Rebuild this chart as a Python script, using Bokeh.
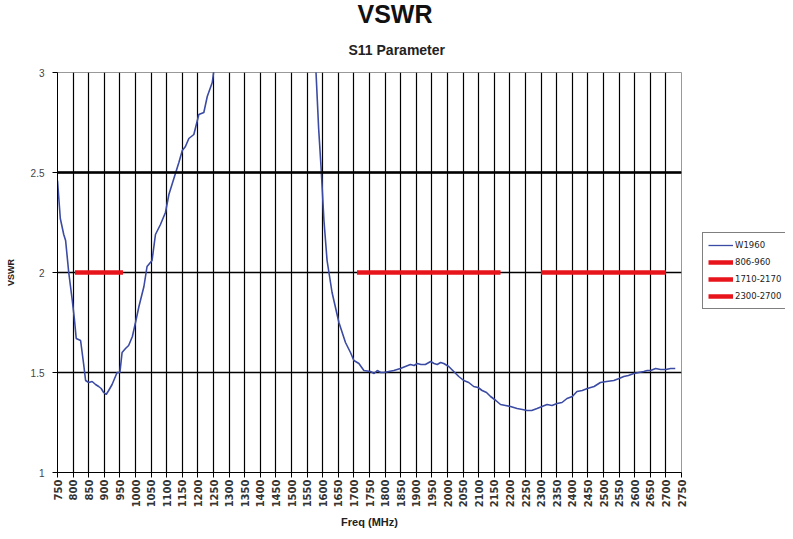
import math
from bokeh.plotting import figure
from bokeh.layouts import row
from bokeh.models import (Title, Legend, LegendItem, FixedTicker, Range1d, Span,
                          ColumnDataSource)
from bokeh.embed import file_html
from bokeh.resources import INLINE

nan = float("nan")

# ---- data ----
freq = [750, 759, 770, 776, 786, 797, 804, 810, 824, 834, 840, 850, 861, 872, 882,
        890, 898, 906, 914, 925, 941, 950, 957, 968, 978, 990, 1000, 1011, 1027,
        1037, 1053, 1064, 1080, 1096, 1107, 1123, 1139, 1150, 1160, 1171, 1187,
        1203, 1219, 1230, 1246, 1252, 1400, 1578, 1587, 1595, 1604, 1614, 1630,
        1652, 1673, 1689, 1700, 1716, 1732, 1753, 1765, 1775, 1786, 1796, 1812,
        1828, 1849, 1865, 1881, 1893, 1903, 1915, 1929, 1946, 1957, 1967, 1978,
        1988, 2004, 2020, 2036, 2052, 2068, 2084, 2098, 2111, 2125, 2138, 2155,
        2170, 2186, 2202, 2223, 2240, 2255, 2270, 2287, 2303, 2319, 2335, 2351,
        2367, 2383, 2400, 2415, 2432, 2448, 2470, 2490, 2510, 2533, 2550, 2565,
        2580, 2597, 2613, 2629, 2640, 2651, 2667, 2683, 2700, 2715, 2730, 2750]
vswr = [2.46, 2.27, 2.19, 2.16, 2.00, 1.865, 1.77, 1.67, 1.66, 1.54, 1.46, 1.45,
        1.455, 1.44, 1.43, 1.42, 1.40, 1.39, 1.41, 1.44, 1.50, 1.50, 1.60, 1.62,
        1.635, 1.68, 1.75, 1.83, 1.93, 2.03, 2.06, 2.19, 2.24, 2.30, 2.39, 2.47,
        2.55, 2.61, 2.63, 2.67, 2.69, 2.79, 2.80, 2.88, 2.95, 3.02, nan, 3.02,
        2.72, 2.52, 2.26, 2.06, 1.90, 1.75, 1.65, 1.60, 1.56, 1.545, 1.51, 1.505,
        1.495, 1.51, 1.50, 1.50, 1.505, 1.51, 1.52, 1.53, 1.54, 1.535, 1.545, 1.54,
        1.54, 1.555, 1.545, 1.54, 1.55, 1.545, 1.53, 1.505, 1.48, 1.46, 1.45, 1.43,
        1.425, 1.41, 1.40, 1.38, 1.36, 1.34, 1.335, 1.33, 1.32, 1.315, 1.31, 1.31,
        1.32, 1.33, 1.34, 1.335, 1.345, 1.35, 1.37, 1.38, 1.405, 1.41, 1.42, 1.43,
        1.45, 1.455, 1.46, 1.47, 1.48, 1.485, 1.495, 1.50, 1.505, 1.51, 1.51, 1.52,
        1.515, 1.515, 1.52, 1.52]
series_name = "W1960"

band_names = ["806-960", "1710-2170", "2300-2700"]
band_start = [806, 1710, 2300]
band_end = [960, 2170, 2700]
band_level = [2, 2, 2]

x_ticks = list(range(750, 2751, 50))
y_ticks = [1, 1.5, 2, 2.5, 3]

title_text = "VSWR"
subtitle_text = "S11 Parameter"
x_label = "Freq (MHz)"
y_label = "VSWR"

line_color = "#3b4ba3"
band_color = "#e8141c"

# ---- main figure ----
p = figure(width=696, height=531,
           x_range=Range1d(750, 2750), y_range=Range1d(1, 3),
           output_backend="svg", toolbar_location=None, title=None,
           min_border_left=57, min_border_right=15, min_border_top=69,
           min_border_bottom=55)
p.background_fill_color = "white"
p.border_fill_color = "white"
p.outline_line_color = "#999999"
p.outline_line_width = 1

# titles
p.add_layout(Title(text=subtitle_text, align="left", offset=291, standoff=29,
                   text_font="Liberation Sans", text_font_size="14px",
                   text_font_style="bold", text_color="#222222"), "above")
p.add_layout(Title(text=title_text, align="left", offset=300, standoff=-5,
                   text_font="Liberation Sans", text_font_size="25px",
                   text_font_style="bold", text_color="#111111"), "above")

# grids
p.xgrid.ticker = FixedTicker(ticks=x_ticks)
p.xgrid.grid_line_color = "black"
p.xgrid.grid_line_width = 1.2
p.ygrid.ticker = FixedTicker(ticks=[1.5, 2, 2.5])
p.ygrid.grid_line_color = "black"
p.ygrid.grid_line_width = 1.5
p.add_layout(Span(location=y_ticks[3], dimension="width", line_color="black",
                  line_width=2.6))

# axes
p.xaxis.ticker = FixedTicker(ticks=x_ticks)
p.xaxis.major_label_orientation = math.pi / 2
p.xaxis.major_label_text_font = "DejaVu Sans"
p.xaxis.major_label_text_font_style = "bold"
p.xaxis.major_label_text_font_size = "10px"
p.xaxis.major_label_text_color = "#333333"
p.xaxis.major_label_standoff = 2
p.xaxis.major_tick_out = 5
p.xaxis.major_tick_in = 0
p.xaxis.minor_tick_line_color = None
p.xaxis.axis_line_color = "black"
p.xaxis.major_tick_line_color = "black"
p.xaxis.axis_label = x_label
p.xaxis.axis_label_text_font = "Liberation Sans"
p.xaxis.axis_label_text_font_style = "bold"
p.xaxis.axis_label_text_font_size = "11px"
p.xaxis.axis_label_text_color = "#222222"
p.xaxis.axis_label_standoff = 6

p.yaxis.ticker = FixedTicker(ticks=y_ticks)
p.yaxis.major_label_text_font = "Liberation Sans"
p.yaxis.major_label_text_font_size = "10px"
p.yaxis.major_label_text_color = "#444444"
p.yaxis.major_label_standoff = 8
p.yaxis.major_tick_out = 5
p.yaxis.major_tick_in = 0
p.yaxis.minor_tick_line_color = None
p.yaxis.axis_line_color = "black"
p.yaxis.major_tick_line_color = "black"
p.yaxis.axis_label = y_label
p.yaxis.axis_label_text_font = "Liberation Sans"
p.yaxis.axis_label_text_font_style = "bold"
p.yaxis.axis_label_text_font_size = "9px"
p.yaxis.axis_label_text_color = "#222222"
p.yaxis.axis_label_standoff = 12

# data
src = ColumnDataSource(dict(x=freq, y=vswr))
p.line("x", "y", source=src, line_color=line_color, line_width=1.6)
for x0, x1, lv in zip(band_start, band_end, band_level):
    bsrc = ColumnDataSource(dict(x=[x0, x1], y=[lv, lv]))
    p.line("x", "y", source=bsrc, line_color=band_color, line_width=4.5)

# ---- legend panel (separate small figure on the right) ----
q = figure(width=89, height=531, output_backend="svg", toolbar_location=None,
           x_range=Range1d(0, 1), y_range=Range1d(0, 1), title=None,
           min_border=0)
q.axis.visible = False
q.grid.visible = False
q.outline_line_color = None
q.background_fill_color = "white"
q.border_fill_color = "white"

items = []
r0 = q.line(x=[nan], y=[nan], line_color=line_color, line_width=1.3)
items.append(LegendItem(label=series_name, renderers=[r0]))
for name in band_names:
    r = q.line(x=[nan], y=[nan], line_color=band_color, line_width=4.5)
    items.append(LegendItem(label=name, renderers=[r]))

legend = Legend(items=items, location=(6, 163), margin=0,
                border_line_color="black", border_line_width=1,
                background_fill_color="white", background_fill_alpha=1,
                label_text_font="DejaVu Sans", label_text_font_size="8.5px",
                label_text_color="#222222", label_standoff=2,
                glyph_width=25, glyph_height=12, label_height=14,
                spacing=3, padding=5)
q.add_layout(legend)

layout = row(p, q)
open("out.html", "w").write(file_html(layout, INLINE))
